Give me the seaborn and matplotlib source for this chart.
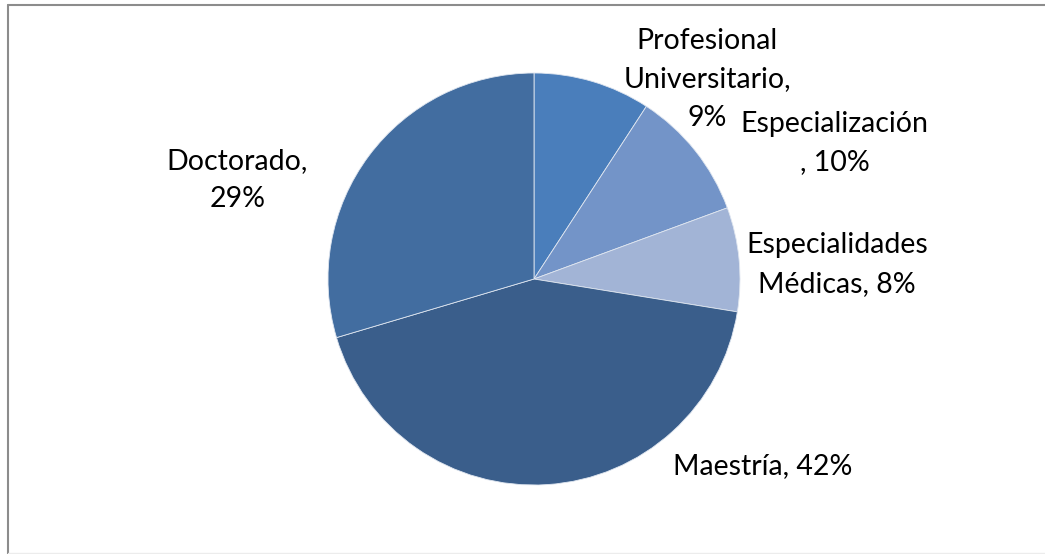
import matplotlib
matplotlib.use("Agg")
import matplotlib.pyplot as plt
import seaborn as sns
from matplotlib.lines import Line2D

sns.set_theme(style="white")
plt.rcParams['font.family'] = ['Lato', 'DejaVu Sans']

# datos
categorias = ["Profesional Universitario", "Especialización", "Especialidades Médicas",
              "Maestría", "Doctorado"]
porcentajes = [9, 10, 8, 42, 29]
colores = ["#4a7ebb", "#7394c8", "#a2b4d6", "#3a5e8b", "#426da0"]

# textos de etiqueta (posicion en unidades del radio)
etiquetas = ["Profesional\nUniversitario,\n9%", "Especialización\n, 10%",
             "Especialidades\nMédicas, 8%", "Maestría, 42%", "Doctorado,\n29%"]
pos_etiquetas = [(0.84, 0.97), (1.46, 0.66), (1.47, 0.07), (1.11, -0.91), (-1.44, 0.48)]

W, H = 1045, 554
fig = plt.figure(figsize=(W / 100, H / 100), dpi=100)
fig.patch.set_facecolor("white")

cx, cy, r = 534, 279, 206
ax = fig.add_axes([(cx - r) / W, (H - cy - r) / H, 2 * r / W, 2 * r / H])
ax.pie(porcentajes, colors=colores, startangle=90, counterclock=False, radius=1,
       wedgeprops=dict(edgecolor="#dfe6f0", linewidth=0.6))
ax.set_xlim(-1, 1)
ax.set_ylim(-1, 1)
ax.set_aspect("equal")
ax.axis("off")

for txt, (x, y) in zip(etiquetas, pos_etiquetas):
    ax.text(x, y, txt, ha="center", va="center", fontsize=20.5, color="black",
            linespacing=1.6, clip_on=False)

# marco del grafico
fig.add_artist(Line2D([7.5 / W, 7.5 / W], [0, 1 - 4.5 / H], transform=fig.transFigure,
                      color="#8c8c8c", linewidth=1.5))
fig.add_artist(Line2D([7.5 / W, 1], [1 - 4.5 / H, 1 - 4.5 / H], transform=fig.transFigure,
                      color="#8c8c8c", linewidth=1.5))
fig.add_artist(Line2D([7.5 / W, 1], [1.5 / H, 1.5 / H], transform=fig.transFigure,
                      color="#ececec", linewidth=1))

fig.savefig("out.png", dpi=100, facecolor="white")
